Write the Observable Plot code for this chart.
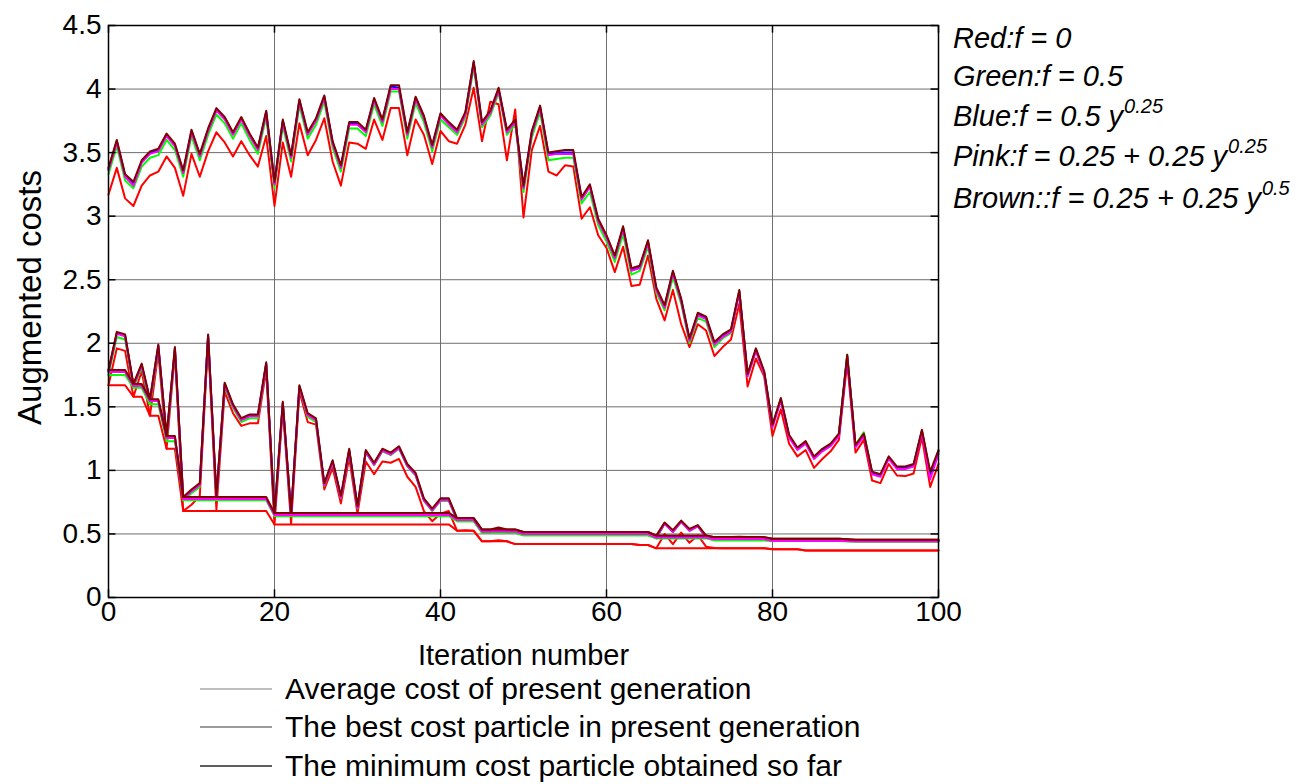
<!DOCTYPE html>
<html>
<head>
<meta charset="utf-8">
<script src="https://cdn.jsdelivr.net/npm/d3@7"></script>
<script src="https://cdn.jsdelivr.net/npm/@observablehq/plot@0.6"></script>
<style>
  html, body { margin: 0; padding: 0; background: #fff; }
  #wrap { position: relative; width: 1315px; height: 784px; overflow: hidden; font-family: "Liberation Sans", Arial, sans-serif; color: #000; }
  #chart { position: absolute; left: 0; top: 0; }
  .note { position: absolute; left: 953px; font-style: italic; font-size: 29px; line-height: 40px; white-space: nowrap; }
  .note .sup { display: inline-block; font-size: 20px; position: relative; top: -13px; margin-left: 1px; }
  .leg { position: absolute; left: 200px; height: 38px; display: flex; align-items: center; font-size: 30px; white-space: nowrap; }
  .leg svg { margin-right: 13px; }
</style>
</head>
<body>
<div id="wrap">
  <div id="chart"></div>
  <div class="note" style="top:18px">Red:f = 0</div>
  <div class="note" style="top:56px">Green:f = 0.5</div>
  <div class="note" style="top:96px">Blue:f = 0.5 y<span class="sup">0.25</span></div>
  <div class="note" style="top:136px">Pink:f = 0.25 + 0.25 y<span class="sup">0.25</span></div>
  <div class="note" style="top:178px">Brown::f = 0.25 + 0.25 y<span class="sup">0.5</span></div>
  <div id="legend"></div>
</div>
<script>
// ---------------- data ----------------
const iterations = Array.from({length: 101}, (_, i) => i);
const xTicks = [0, 20, 40, 60, 80, 100];
const yTicks = [0, 0.5, 1, 1.5, 2, 2.5, 3, 3.5, 4, 4.5];

const seriesNames = ["Red", "Green", "Blue", "Pink", "Brown"];
const seriesColors = ["#ff0000", "#00ff00", "#0000ff", "#ff00ff", "#800000"];

// Average cost of present generation
const avgRed = [
3.17,3.38,3.14,3.08,3.24,3.32,3.35,3.47,3.38,3.16,
3.49,3.31,3.51,3.66,3.58,3.47,3.59,3.48,3.39,3.63,
3.08,3.58,3.31,3.73,3.48,3.60,3.77,3.43,3.24,3.58,
3.57,3.53,3.76,3.60,3.85,3.85,3.48,3.76,3.64,3.41,
3.67,3.59,3.57,3.72,4.01,3.59,3.90,3.88,3.44,3.84,
2.99,3.52,3.71,3.35,3.32,3.40,3.39,2.98,3.07,2.85,
2.75,2.56,2.76,2.45,2.46,2.69,2.35,2.18,2.42,2.15,
1.97,2.15,2.10,1.90,1.97,2.03,2.31,1.66,1.88,1.74,
1.27,1.48,1.21,1.11,1.16,1.02,1.09,1.15,1.24,1.85,
1.14,1.24,0.92,0.90,1.05,0.96,0.955,0.975,1.26,0.87,
1.05];
const avgGreen = [
3.33,3.55,3.28,3.22,3.39,3.46,3.48,3.60,3.52,3.31,
3.63,3.44,3.64,3.80,3.73,3.61,3.73,3.60,3.49,3.78,
3.22,3.71,3.43,3.87,3.61,3.72,3.90,3.54,3.35,3.69,
3.69,3.63,3.88,3.71,3.98,3.98,3.61,3.89,3.74,3.51,
3.76,3.70,3.64,3.78,4.17,3.70,3.79,3.97,3.64,3.72,
3.19,3.62,3.82,3.44,3.45,3.46,3.46,3.10,3.19,2.93,
2.80,2.64,2.86,2.54,2.57,2.76,2.40,2.26,2.52,2.31,
2.00,2.20,2.17,1.97,2.04,2.08,2.40,1.74,1.94,1.76,
1.35,1.56,1.27,1.17,1.22,1.10,1.16,1.20,1.29,1.91,
1.20,1.30,0.98,0.96,1.10,1.02,1.02,1.04,1.31,0.97,
1.15];
const avgBlue = [
3.37,3.59,3.32,3.25,3.43,3.50,3.52,3.64,3.56,3.35,
3.67,3.48,3.68,3.84,3.77,3.65,3.77,3.64,3.53,3.82,
3.26,3.75,3.47,3.91,3.65,3.76,3.94,3.58,3.39,3.73,
3.73,3.67,3.92,3.75,4.02,4.01,3.65,3.93,3.78,3.55,
3.80,3.73,3.67,3.81,4.21,3.73,3.82,4.00,3.67,3.75,
3.23,3.66,3.86,3.49,3.50,3.50,3.50,3.14,3.24,2.97,
2.84,2.68,2.91,2.58,2.60,2.80,2.43,2.29,2.56,2.34,
2.03,2.23,2.20,2.00,2.06,2.10,2.41,1.75,1.95,1.77,
1.35,1.56,1.27,1.17,1.22,1.10,1.16,1.20,1.28,1.90,
1.19,1.28,0.98,0.96,1.10,1.02,1.02,1.04,1.31,0.97,
1.15];
const avgPink = [
3.36,3.58,3.31,3.24,3.42,3.49,3.51,3.63,3.55,3.34,
3.66,3.47,3.67,3.83,3.76,3.64,3.76,3.63,3.52,3.81,
3.25,3.74,3.46,3.90,3.64,3.75,3.93,3.57,3.38,3.72,
3.72,3.66,3.91,3.74,4.00,4.00,3.64,3.92,3.77,3.54,
3.79,3.72,3.66,3.80,4.20,3.72,3.81,3.99,3.66,3.74,
3.22,3.65,3.85,3.48,3.49,3.49,3.49,3.13,3.23,2.96,
2.83,2.67,2.90,2.57,2.59,2.79,2.42,2.28,2.55,2.33,
2.02,2.22,2.19,1.99,2.05,2.09,2.40,1.74,1.94,1.76,
1.34,1.55,1.26,1.16,1.21,1.09,1.15,1.19,1.27,1.89,
1.18,1.27,0.97,0.95,1.09,1.01,1.01,1.03,1.30,0.93,
1.13];
const avgBrown = [
3.38,3.60,3.33,3.27,3.44,3.51,3.53,3.65,3.57,3.36,
3.68,3.49,3.69,3.85,3.78,3.66,3.78,3.65,3.54,3.83,
3.27,3.76,3.48,3.92,3.66,3.77,3.95,3.59,3.40,3.74,
3.74,3.68,3.93,3.76,4.03,4.03,3.66,3.94,3.79,3.56,
3.81,3.74,3.68,3.82,4.22,3.74,3.83,4.01,3.68,3.76,
3.24,3.67,3.87,3.50,3.51,3.52,3.52,3.15,3.25,2.98,
2.85,2.69,2.92,2.59,2.61,2.81,2.44,2.30,2.57,2.35,
2.04,2.24,2.21,2.01,2.07,2.11,2.42,1.76,1.96,1.78,
1.36,1.57,1.28,1.18,1.23,1.11,1.17,1.21,1.29,1.91,
1.20,1.29,0.99,0.97,1.11,1.03,1.03,1.05,1.32,0.99,
1.16];

// The best cost particle in present generation
const bestRed = [
1.67,1.96,1.94,1.58,1.78,1.43,1.93,1.17,1.92,0.68,
0.73,0.80,2.02,0.69,1.62,1.45,1.35,1.37,1.37,1.79,
0.575,1.49,0.58,1.62,1.38,1.36,0.85,1.02,0.74,1.10,
0.66,1.07,0.97,1.07,1.06,1.09,0.95,0.87,0.68,0.60,
0.66,0.68,0.525,0.53,0.525,0.442,0.442,0.45,0.442,0.42,
0.42,0.42,0.42,0.42,0.42,0.42,0.42,0.42,0.42,0.42,
0.42,0.42,0.42,0.42,0.413,0.413,0.387,0.50,0.42,0.51,
0.43,0.49,0.40,0.39,0.387,0.387,0.387,0.387,0.387,0.387,
0.38,0.38,0.38,0.38,0.37,0.37,0.37,0.37,0.37,0.37,
0.37,0.37,0.37,0.37,0.37,0.37,0.37,0.37,0.37,0.37,
0.37];
const bestGreen = [
1.75,2.05,2.03,1.65,1.81,1.52,1.96,1.23,1.94,0.765,
0.82,0.87,2.05,0.775,1.66,1.49,1.38,1.41,1.41,1.83,
0.64,1.52,0.645,1.65,1.42,1.38,0.88,1.06,0.78,1.15,
0.70,1.14,1.04,1.15,1.12,1.17,1.03,0.96,0.76,0.68,
0.76,0.76,0.60,0.60,0.60,0.51,0.51,0.525,0.51,0.51,
0.49,0.49,0.49,0.49,0.49,0.49,0.49,0.49,0.49,0.49,
0.49,0.49,0.49,0.49,0.49,0.49,0.465,0.58,0.515,0.595,
0.525,0.56,0.47,0.45,0.45,0.45,0.45,0.45,0.45,0.45,
0.445,0.445,0.445,0.445,0.445,0.445,0.445,0.445,0.445,0.443,
0.44,0.44,0.44,0.44,0.44,0.44,0.44,0.44,0.44,0.44,
0.44];
const bestBlue = [
1.78,2.08,2.06,1.67,1.83,1.55,1.98,1.26,1.96,0.78,
0.84,0.89,2.06,0.79,1.68,1.51,1.40,1.43,1.43,1.84,
0.655,1.53,0.655,1.66,1.44,1.40,0.89,1.07,0.79,1.16,
0.71,1.15,1.05,1.16,1.13,1.18,1.04,0.97,0.77,0.69,
0.77,0.77,0.615,0.615,0.615,0.525,0.525,0.54,0.525,0.525,
0.505,0.505,0.505,0.505,0.505,0.505,0.505,0.505,0.505,0.505,
0.505,0.505,0.505,0.505,0.505,0.505,0.477,0.585,0.52,0.60,
0.53,0.565,0.477,0.465,0.465,0.465,0.465,0.465,0.465,0.465,
0.452,0.452,0.452,0.452,0.452,0.452,0.452,0.452,0.452,0.449,
0.447,0.447,0.447,0.447,0.447,0.447,0.447,0.447,0.447,0.447,
0.447];
const bestPink = [
1.775,2.075,2.055,1.665,1.825,1.545,1.975,1.255,1.955,0.775,
0.835,0.885,2.055,0.785,1.675,1.505,1.395,1.425,1.425,1.835,
0.65,1.525,0.65,1.655,1.435,1.395,0.885,1.065,0.785,1.155,
0.705,1.145,1.045,1.155,1.125,1.175,1.035,0.965,0.765,0.685,
0.765,0.765,0.61,0.61,0.61,0.52,0.52,0.535,0.52,0.52,
0.50,0.50,0.50,0.50,0.50,0.50,0.50,0.50,0.50,0.50,
0.50,0.50,0.50,0.50,0.50,0.50,0.472,0.58,0.515,0.595,
0.525,0.56,0.472,0.46,0.46,0.46,0.46,0.46,0.46,0.46,
0.447,0.447,0.447,0.447,0.447,0.447,0.447,0.447,0.447,0.445,
0.443,0.443,0.443,0.443,0.443,0.443,0.443,0.443,0.443,0.443,
0.443];
const bestBrown = [
1.79,2.09,2.07,1.68,1.84,1.56,1.99,1.27,1.97,0.79,
0.85,0.90,2.07,0.80,1.69,1.52,1.41,1.44,1.44,1.85,
0.665,1.54,0.665,1.67,1.45,1.41,0.90,1.08,0.80,1.17,
0.72,1.16,1.06,1.17,1.14,1.19,1.05,0.98,0.78,0.70,
0.78,0.78,0.625,0.625,0.625,0.535,0.535,0.55,0.535,0.535,
0.515,0.515,0.515,0.515,0.515,0.515,0.515,0.515,0.515,0.515,
0.515,0.515,0.515,0.515,0.515,0.515,0.487,0.59,0.53,0.605,
0.54,0.57,0.487,0.475,0.475,0.475,0.478,0.475,0.475,0.475,
0.462,0.462,0.462,0.462,0.462,0.462,0.462,0.462,0.462,0.458,
0.455,0.455,0.455,0.455,0.455,0.455,0.455,0.455,0.455,0.455,
0.455];

// The minimum cost particle obtained so far
const minRed = [
1.67,1.67,1.67,1.58,1.58,1.43,1.43,1.17,1.17,0.68,
0.68,0.68,0.68,0.68,0.68,0.68,0.68,0.68,0.68,0.68,
0.575,0.575,0.575,0.575,0.575,0.575,0.575,0.575,0.575,0.575,
0.575,0.575,0.575,0.575,0.575,0.575,0.575,0.575,0.575,0.575,
0.575,0.575,0.525,0.525,0.525,0.442,0.442,0.442,0.442,0.42,
0.42,0.42,0.42,0.42,0.42,0.42,0.42,0.42,0.42,0.42,
0.42,0.42,0.42,0.42,0.413,0.413,0.387,0.387,0.387,0.387,
0.387,0.387,0.387,0.387,0.387,0.387,0.387,0.387,0.387,0.387,
0.38,0.38,0.38,0.38,0.37,0.37,0.37,0.37,0.37,0.37,
0.37,0.37,0.37,0.37,0.37,0.37,0.37,0.37,0.37,0.37,
0.37];
const minGreen = [
1.75,1.75,1.75,1.65,1.65,1.52,1.52,1.23,1.23,0.765,
0.765,0.765,0.765,0.765,0.765,0.765,0.765,0.765,0.765,0.765,
0.64,0.64,0.64,0.64,0.64,0.64,0.64,0.64,0.64,0.64,
0.64,0.64,0.64,0.64,0.64,0.64,0.64,0.64,0.64,0.64,
0.64,0.64,0.60,0.60,0.60,0.51,0.51,0.51,0.51,0.51,
0.49,0.49,0.49,0.49,0.49,0.49,0.49,0.49,0.49,0.49,
0.49,0.49,0.49,0.49,0.49,0.49,0.465,0.465,0.465,0.465,
0.465,0.465,0.465,0.45,0.45,0.45,0.45,0.45,0.45,0.45,
0.445,0.445,0.445,0.445,0.445,0.445,0.445,0.445,0.445,0.443,
0.44,0.44,0.44,0.44,0.44,0.44,0.44,0.44,0.44,0.44,
0.44];
const minBlue = [
1.78,1.78,1.78,1.67,1.67,1.55,1.55,1.26,1.26,0.78,
0.78,0.78,0.78,0.78,0.78,0.78,0.78,0.78,0.78,0.78,
0.655,0.655,0.655,0.655,0.655,0.655,0.655,0.655,0.655,0.655,
0.655,0.655,0.655,0.655,0.655,0.655,0.655,0.655,0.655,0.655,
0.655,0.655,0.615,0.615,0.615,0.525,0.525,0.525,0.525,0.525,
0.505,0.505,0.505,0.505,0.505,0.505,0.505,0.505,0.505,0.505,
0.505,0.505,0.505,0.505,0.505,0.505,0.477,0.477,0.477,0.477,
0.477,0.477,0.477,0.465,0.465,0.465,0.465,0.465,0.465,0.465,
0.452,0.452,0.452,0.452,0.452,0.452,0.452,0.452,0.452,0.449,
0.447,0.447,0.447,0.447,0.447,0.447,0.447,0.447,0.447,0.447,
0.447];
const minPink = [
1.775,1.775,1.775,1.665,1.665,1.545,1.545,1.255,1.255,0.775,
0.775,0.775,0.775,0.775,0.775,0.775,0.775,0.775,0.775,0.775,
0.65,0.65,0.65,0.65,0.65,0.65,0.65,0.65,0.65,0.65,
0.65,0.65,0.65,0.65,0.65,0.65,0.65,0.65,0.65,0.65,
0.65,0.65,0.61,0.61,0.61,0.52,0.52,0.52,0.52,0.52,
0.50,0.50,0.50,0.50,0.50,0.50,0.50,0.50,0.50,0.50,
0.50,0.50,0.50,0.50,0.50,0.50,0.472,0.472,0.472,0.472,
0.472,0.472,0.472,0.46,0.46,0.46,0.46,0.46,0.46,0.46,
0.447,0.447,0.447,0.447,0.447,0.447,0.447,0.447,0.447,0.445,
0.443,0.443,0.443,0.443,0.443,0.443,0.443,0.443,0.443,0.443,
0.443];
const minBrown = [
1.79,1.79,1.79,1.68,1.68,1.56,1.56,1.27,1.27,0.79,
0.79,0.79,0.79,0.79,0.79,0.79,0.79,0.79,0.79,0.79,
0.665,0.665,0.665,0.665,0.665,0.665,0.665,0.665,0.665,0.665,
0.665,0.665,0.665,0.665,0.665,0.665,0.665,0.665,0.665,0.665,
0.665,0.665,0.625,0.625,0.625,0.535,0.535,0.535,0.535,0.535,
0.515,0.515,0.515,0.515,0.515,0.515,0.515,0.515,0.515,0.515,
0.515,0.515,0.515,0.515,0.515,0.515,0.487,0.487,0.487,0.487,
0.487,0.487,0.487,0.475,0.475,0.475,0.475,0.475,0.475,0.475,
0.462,0.462,0.462,0.462,0.462,0.462,0.462,0.462,0.462,0.458,
0.455,0.455,0.455,0.455,0.455,0.455,0.455,0.455,0.455,0.455,
0.455];

const curveLabels = [
  "Average cost of present generation",
  "The best cost particle in present generation",
  "The minimum cost particle obtained so far"
];
const legendStrokes = ["#a8a8a8", "#7a7a7a", "#2a2a2a"];

// ---------------- build ----------------
const bySeries = [
  [avgRed, bestRed, minRed],
  [avgGreen, bestGreen, minGreen],
  [avgBlue, bestBlue, minBlue],
  [avgPink, bestPink, minPink],
  [avgBrown, bestBrown, minBrown]
];

const lineMarks = [];
bySeries.forEach((curves, si) => {
  curves.forEach((vals, ci) => {
    const rows = iterations.map(i => ({it: i, v: vals[i]}));
    lineMarks.push(Plot.line(rows, {x: "it", y: "v", stroke: seriesColors[si], strokeWidth: 2}));
  });
});

const chart = Plot.plot({
  width: 1315,
  height: 670,
  marginLeft: 108,
  marginRight: 377,
  marginTop: 25,
  marginBottom: 73,
  style: {fontFamily: "'Liberation Sans', Arial, sans-serif", fontSize: "28px", background: "white", color: "black", overflow: "visible"},
  x: {domain: [0, 100]},
  y: {domain: [0, 4.5]},
  marks: [
    Plot.gridX(xTicks, {stroke: "#6e6e6e", strokeOpacity: 1, strokeWidth: 1}),
    Plot.gridY(yTicks, {stroke: "#6e6e6e", strokeOpacity: 1, strokeWidth: 1}),
    ...lineMarks,
    Plot.ruleY(yTicks, {x1: 0, x2: 0.9, stroke: "black", strokeWidth: 1.5}),
    Plot.ruleY(yTicks, {x1: 99.1, x2: 100, stroke: "black", strokeWidth: 1.5}),
    Plot.ruleX(xTicks, {y1: 0, y2: 0.06, stroke: "black", strokeWidth: 1.5}),
    Plot.ruleX(xTicks, {y1: 4.44, y2: 4.5, stroke: "black", strokeWidth: 1.5}),
    Plot.frame({stroke: "black", strokeWidth: 1.5}),
    Plot.axisX(xTicks, {tickSize: 0, tickPadding: 4, fontSize: 28, label: null}),
    Plot.axisY(yTicks, {tickSize: 0, tickPadding: 7, fontSize: 28, label: null, tickFormat: d => String(d)}),
    Plot.text(["Iteration number"], {frameAnchor: "bottom", dy: 58, lineAnchor: "middle", fontSize: 29, text: d => d}),
    Plot.text(["Augmented costs"], {frameAnchor: "left", textAnchor: "middle", lineAnchor: "middle", dx: -78, dy: -14, rotate: -90, fontSize: 33, text: d => d})
  ]
});
document.getElementById("chart").appendChild(chart);

// legend below the plot
const legend = document.getElementById("legend");
const rowTops = [670, 708, 747];
curveLabels.forEach((label, k) => {
  const row = document.createElement("div");
  row.className = "leg";
  row.style.top = rowTops[k] + "px";
  row.innerHTML = `<svg width="72" height="4"><line x1="0" y1="2" x2="72" y2="2" stroke="${legendStrokes[k]}" stroke-width="1.3"/></svg><span>${label}</span>`;
  legend.appendChild(row);
});
</script>
</body>
</html>
